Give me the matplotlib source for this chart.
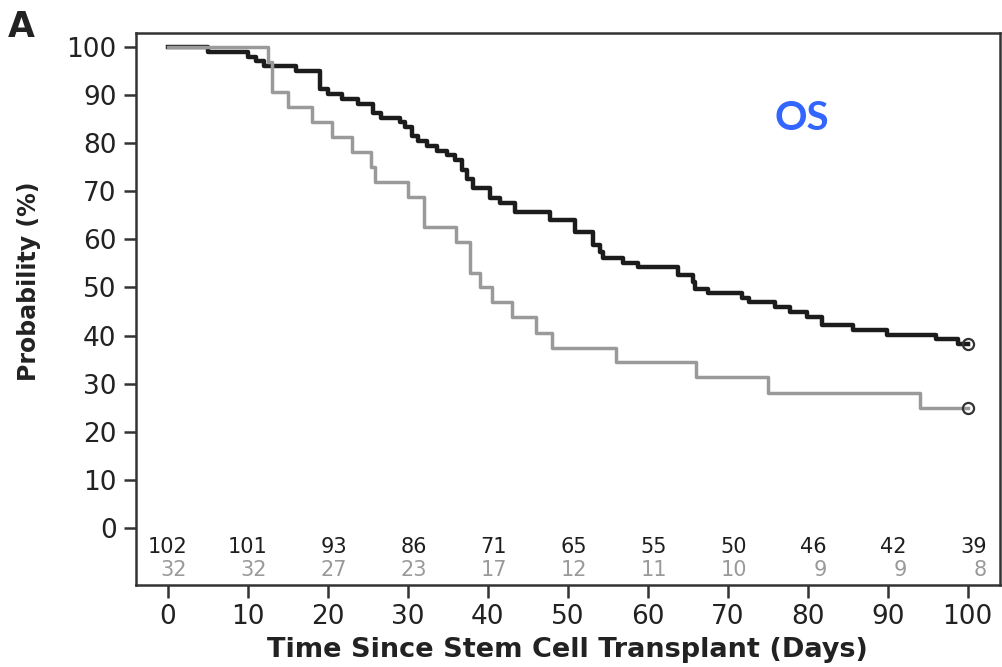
import numpy as np
from matplotlib import pyplot as plt

# Kaplan-Meier steps (days, % surviving)
black_t = [0, 5, 10, 11, 12, 16, 19, 20, 21.7, 23.75, 25.6, 26.7, 29, 29.6,
           30.5, 31.3, 32.4, 33.6, 34.9, 35.9, 36.75, 37.4, 38.1, 40.25, 41.5,
           43.4, 47.75, 50.9, 53.1, 54, 54.4, 56.9, 58.8, 63.8, 65.6, 65.9,
           67.5, 71.75, 72.7, 75.9, 77.75, 79.9, 81.75, 85.7, 89.9, 96, 98.75,
           100]
black_s = [100, 99.0, 98.0, 97.1, 96.1, 95.1, 91.2, 90.2, 89.2, 88.2, 86.3,
           85.3, 84.3, 83.3, 81.4, 80.4, 79.4, 78.4, 77.5, 76.5, 74.5, 72.5,
           70.6, 68.6, 67.6, 65.7, 64.0, 61.5, 58.8, 57.4, 56.1, 55.1, 54.3,
           52.6, 51.2, 49.7, 48.9, 47.8, 47.0, 46.0, 45.0, 43.9, 42.2, 41.2,
           40.2, 39.3, 38.2, 38.2]

gray_t = [0, 12.5, 13, 15, 18, 20.5, 23, 25.4, 25.9, 30, 32, 36, 37.8, 39,
          40.5, 43, 46, 48, 56, 66, 75, 94, 100]
gray_s = [100, 96.9, 90.6, 87.5, 84.4, 81.3, 78.1, 75.0, 71.9, 68.8, 62.5,
          59.4, 53.1, 50.0, 46.9, 43.8, 40.6, 37.5, 34.4, 31.3, 28.1, 25.0,
          25.0]

# numbers at risk
risk_days = [0, 10, 20, 30, 40, 50, 60, 70, 80, 90, 100]
risk_black = [102, 101, 93, 86, 71, 65, 55, 50, 46, 42, 39]
risk_gray = [32, 32, 27, 23, 17, 12, 11, 10, 9, 9, 8]

plt.rcParams['font.family'] = ['DejaVu Sans']

fig = plt.figure(figsize=(10.02, 6.67), dpi=100)
ax = fig.add_axes([0.1357, 0.123, 0.862, 0.8275])

ax.step(black_t, black_s, where='post', color='#1c1c1c', lw=3.2)
ax.step(gray_t, gray_s, where='post', color='#9a9a9a', lw=2.5)
# censor marks at end of follow-up
ax.plot(black_t[-1], black_s[-1], 'o', mfc='none', mec='#333333', ms=8, mew=1.6)
ax.plot(gray_t[-1], gray_s[-1], 'o', mfc='none', mec='#333333', ms=8, mew=1.6)

for d, b, g in zip(risk_days, risk_black, risk_gray):
    ax.text(d + 2.4, -3.9, str(b), ha='right', va='center', fontsize=15,
            color='#1e1e1e')
    ax.text(d + 2.4, -8.7, str(g), ha='right', va='center', fontsize=15,
            color='#9a9a9a')

ax.text(79.3, 85.2, 'OS', color='#3366ff', fontsize=29, fontweight='bold',
        family='Lato', ha='center', va='center')

ax.set_xlim(-4, 104)
ax.set_ylim(-11.85, 102.9)
ax.set_xticks(risk_days)
ax.set_yticks(np.arange(0, 101, 10))
ax.tick_params(axis='both', length=9, width=1.8, color='#333333',
               labelsize=19, labelcolor='#222222', pad=5)
for s in ax.spines.values():
    s.set_linewidth(1.8)
    s.set_color('#333333')

ax.set_xlabel('Time Since Stem Cell Transplant (Days)', fontsize=19.5,
              fontweight='bold', color='#222222', labelpad=5)
ax.set_ylabel('Probability (%)', fontsize=17, fontweight='bold',
              color='#222222')
ax.yaxis.set_label_coords(-0.11, 0.55)

fig.text(0.008, 0.985, 'A', fontsize=25, fontweight='bold', color='#222222',
         va='top', ha='left')

fig.savefig('out.png', dpi=100)
